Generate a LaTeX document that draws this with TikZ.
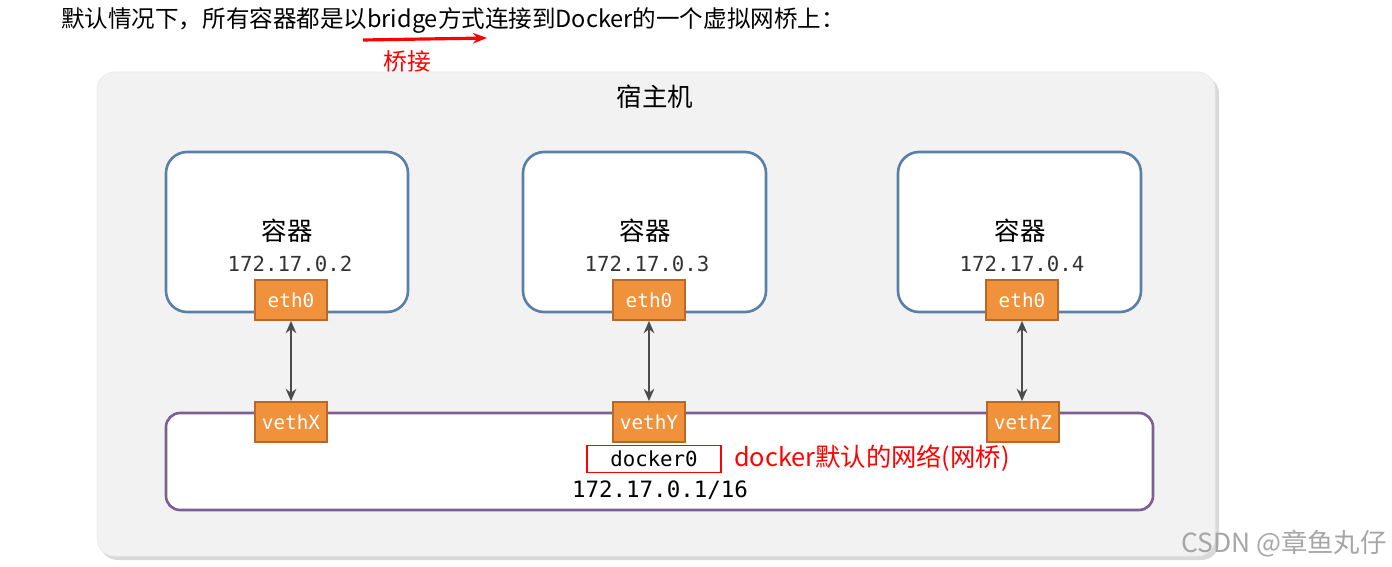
\documentclass[tikz,border=0pt]{standalone}
\usepackage{fontspec}
\setmainfont{Noto Sans CJK SC}
\setmonofont{DejaVu Sans Mono}
\newfontfamily\cjk{Noto Sans CJK SC}
\usetikzlibrary{arrows.meta}
\definecolor{ctrc}{HTML}{5A80A8}
\definecolor{portf}{HTML}{F0923C}
\definecolor{portd}{HTML}{B8692A}
\definecolor{brc}{HTML}{7E5F94}
\begin{document}
\begin{tikzpicture}[x=0.02cm,y=-0.02cm,
  ctr/.style={draw=ctrc,line width=1.5pt,fill=white,rounded corners=12pt},
  port/.style={draw=portd,fill=portf,line width=1pt,minimum width=72*0.02cm,minimum height=40*0.02cm,inner sep=0pt,font=\ttfamily\fontsize{11}{12}\selectfont,text=white},
  lab/.style={font=\cjk\fontsize{14.5}{16}\selectfont},
  ip/.style={font=\ttfamily\fontsize{11.8}{13}\selectfont,text=black!80},
  link/.style={{Stealth[length=7pt,width=6pt]}-{Stealth[length=7pt,width=6pt]},line width=1.4pt,draw=black!70}]
\useasboundingbox (0,0) rectangle (1392,567);
\node[anchor=west,font=\cjk\fontsize{13.4}{15}\selectfont] (title) at (55,20) {默认情况下，所有容器都是以bridge方式连接到Docker的一个虚拟网桥上：};
\coordinate (ra) at (363,40); \coordinate (rb) at (487,38);
\draw[-{Stealth[length=8pt,width=6pt]},red,line width=1.8pt] (ra) -- (rb);
\node[text=red,font=\cjk\fontsize{13.5}{15}\selectfont] (qj) at (407,62) {桥接};
\fill[black!15,rounded corners=10pt] (100,76) rectangle (1219,560);
\draw[draw=black!8,fill=black!5,rounded corners=10pt] (97,72) rectangle (1215,556);
\node[lab] (host) at (655,97) {宿主机};
\draw[ctr] (166,152) rectangle (408,312);
\draw[ctr] (523,152) rectangle (766,312);
\draw[ctr] (898,152) rectangle (1141,312);
\node[lab] (c1) at (287,231) {容器};
\node[lab] (c2) at (645,231) {容器};
\node[lab] (c3) at (1020,231) {容器};
\node[ip] (i1) at (290,264) {172.17.0.2};
\node[ip] (i2) at (647,264) {172.17.0.3};
\node[ip] (i3) at (1022,264) {172.17.0.4};
\draw[draw=brc,line width=1.5pt,fill=white,rounded corners=8pt] (166,413) rectangle (1153,510);
\node[port] (e1) at (291,300) {eth0};
\node[port] (e2) at (649,300) {eth0};
\node[port] (e3) at (1022,300) {eth0};
\node[port] (v1) at (291,422) {vethX};
\node[port] (v2) at (649,422) {vethY};
\node[port] (v3) at (1023,422) {vethZ};
\draw[link] (e1) -- (v1);
\draw[link] (e2) -- (v2);
\draw[link] (e3.south) -- (e3.south |- v3.north);
\node[draw=red,line width=1pt,minimum width=134*0.02cm,minimum height=27*0.02cm,inner sep=0pt,ip,text=black] (d0) at (654,459) {docker0};
\node[anchor=west,text=red,font=\cjk\fontsize{14.4}{16}\selectfont] (dl) at (728,458) {docker默认的网络(网桥)};
\node[ip,text=black,font=\ttfamily\fontsize{12.8}{14}\selectfont] (sub) at (660,490) {172.17.0.1/16};
\node[text=black!35,font=\cjk\fontsize{15}{16}\selectfont] (wm) at (1284,544) {CSDN @章鱼丸仔};
\end{tikzpicture}
\end{document}
